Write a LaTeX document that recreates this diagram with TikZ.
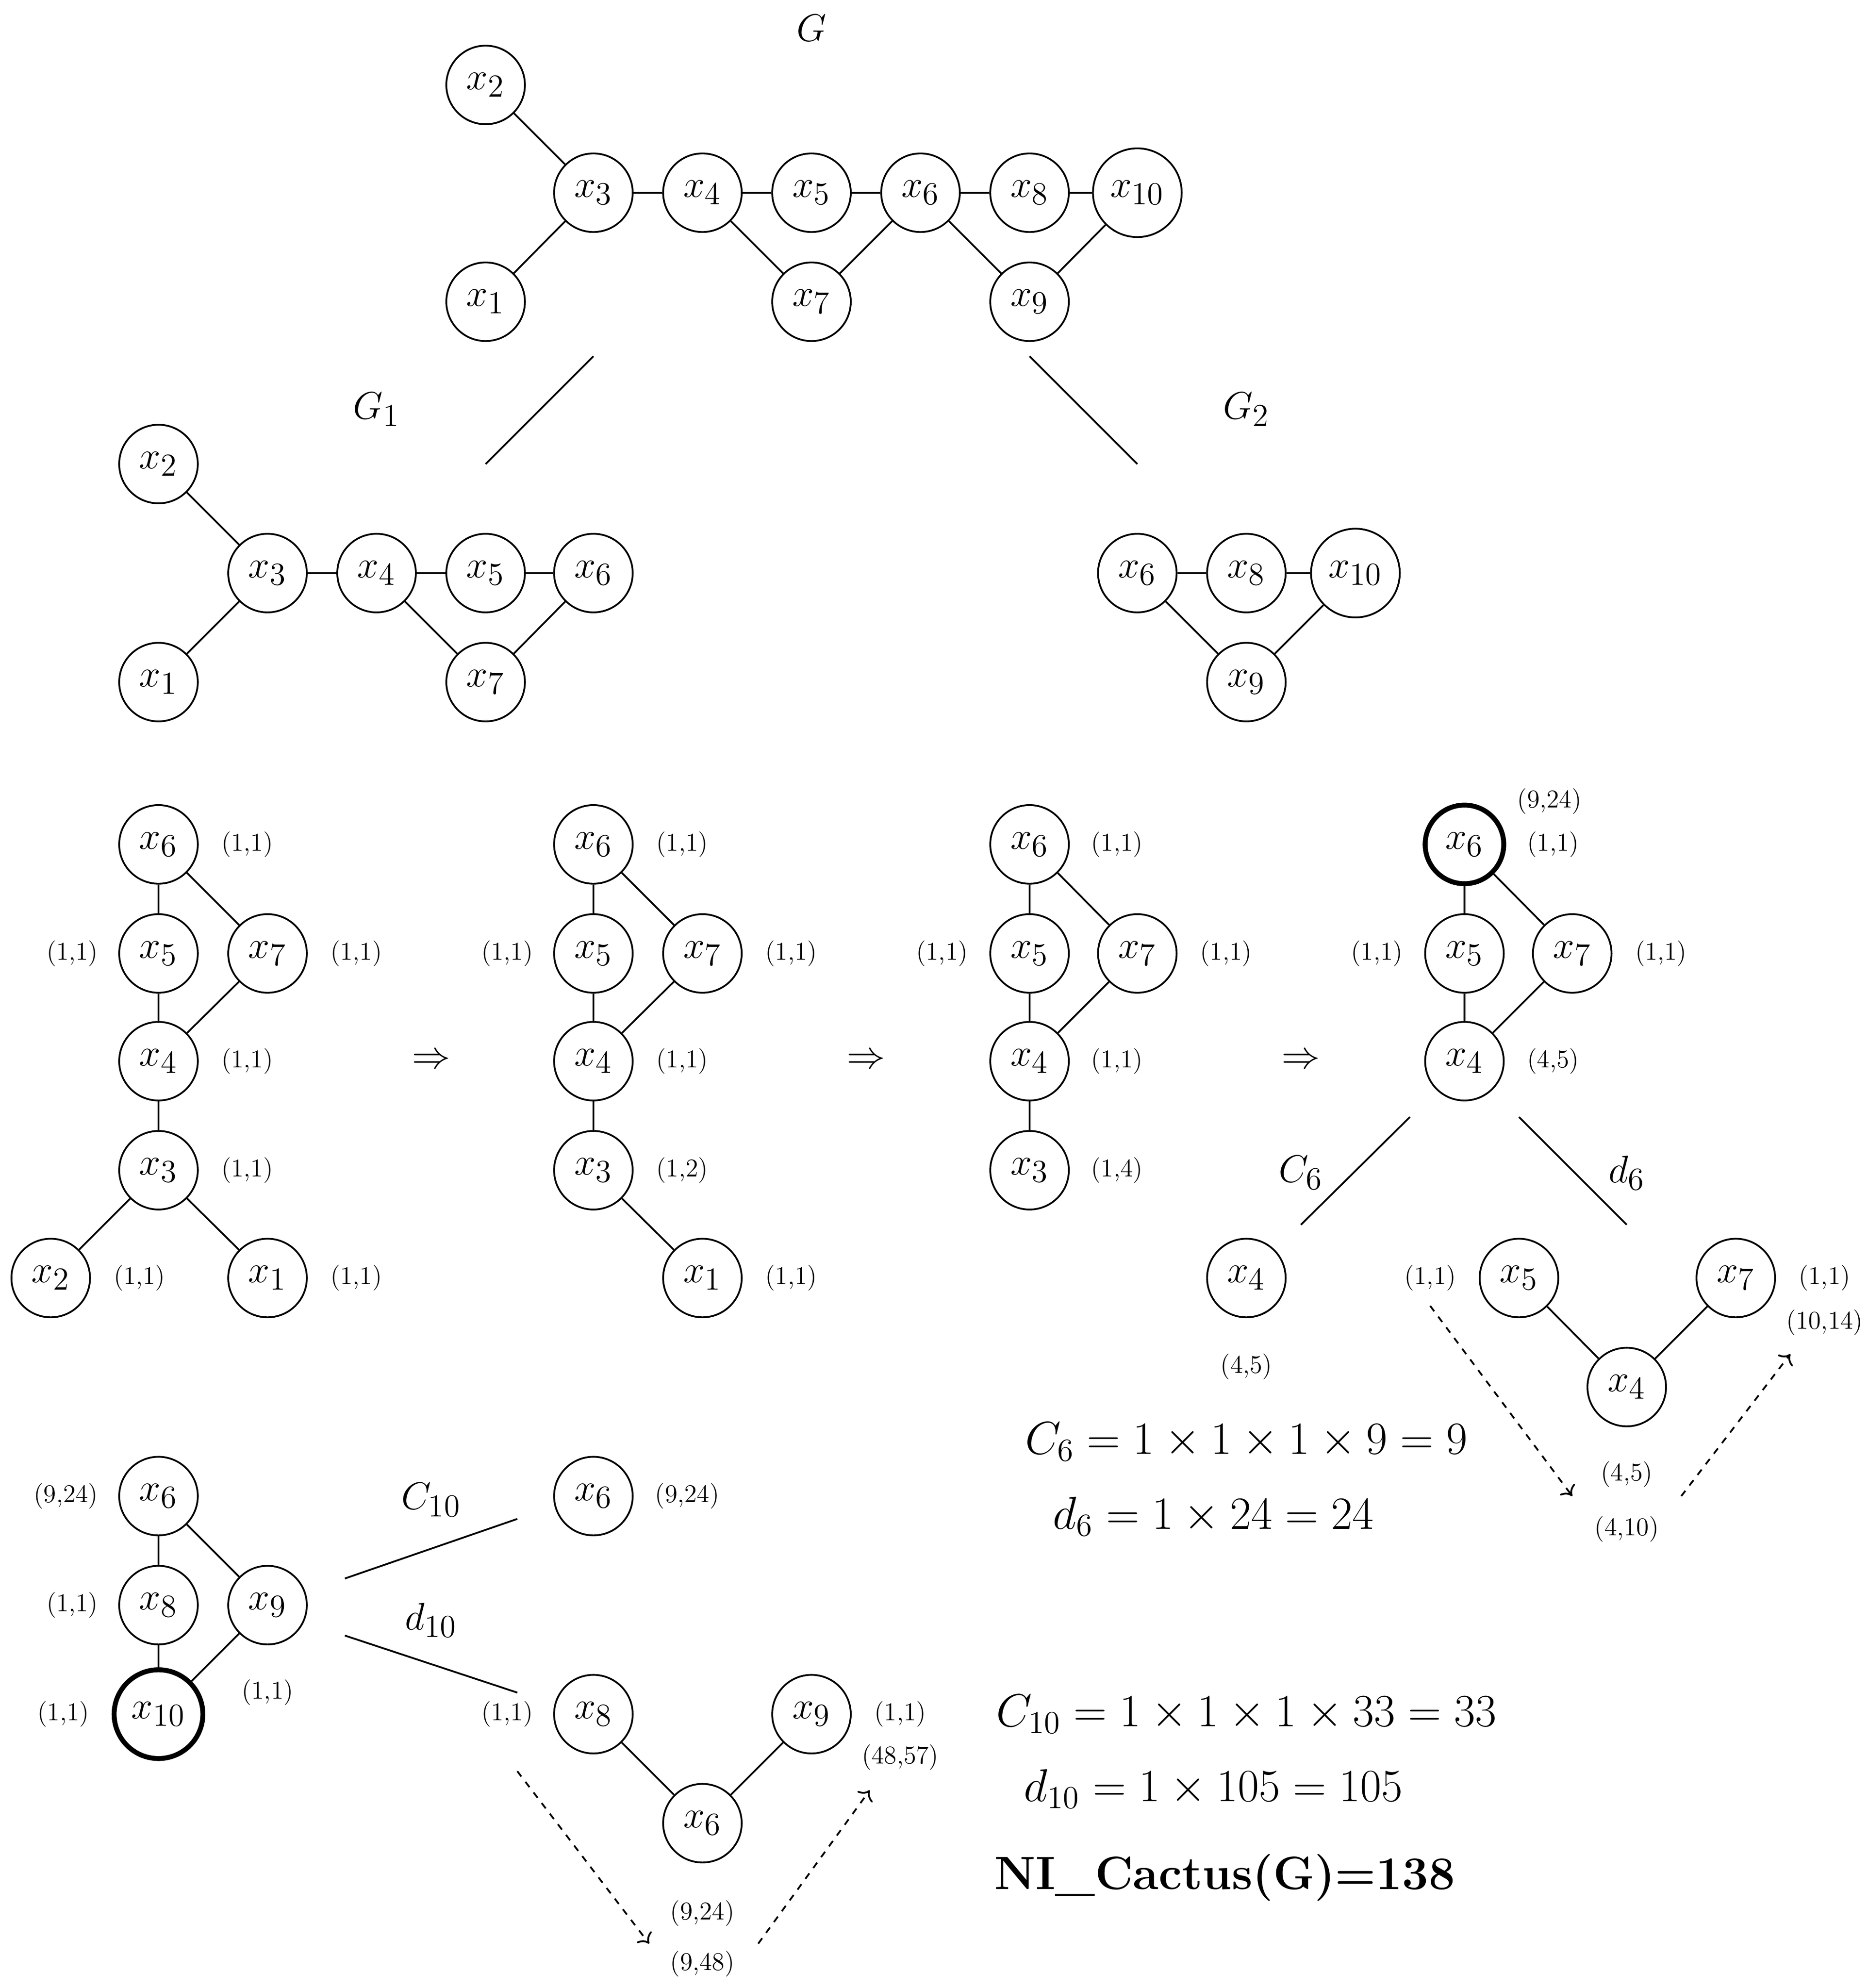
\documentclass[tikz,border=0pt]{standalone}
\usetikzlibrary{arrows.meta}
\begin{document}
\begin{tikzpicture}[x=0.02cm,y=-0.02cm,
 v/.style={circle,draw,line width=0.8pt,minimum size=1.24cm,inner sep=0pt,font=\fontsize{19}{22}\selectfont},
 vb/.style={v,minimum size=1.4cm},
 thick node/.style={line width=2.2pt},
 lab/.style={font=\fontsize{11.5}{13}\selectfont},
 gl/.style={font=\fontsize{19}{22}\selectfont},
 eq/.style={font=\fontsize{21}{25}\selectfont},
 e/.style={line width=0.8pt},
 da/.style={dashed,line width=0.8pt,-{To[length=4pt]}}]
\useasboundingbox (0,0) rectangle (1473,1568);
% G
\node[gl] (gG) at (640,22) {$G$};
\node[v] (a2) at (383,67) {$x_2$};
\node[v] (a3) at (468,152) {$x_3$};
\node[v] (a4) at (554,152) {$x_4$};
\node[v] (a5) at (640,152) {$x_5$};
\node[v] (a6) at (726,152) {$x_6$};
\node[v] (a8) at (812,152) {$x_8$};
\node[vb] (a10) at (897,152) {$x_{10}$};
\node[v] (a1) at (383,238) {$x_1$};
\node[v] (a7) at (640,238) {$x_7$};
\node[v] (a9) at (812,238) {$x_9$};
\draw[e] (a2)--(a3) (a1)--(a3) (a3)--(a4) (a4)--(a5) (a5)--(a6) (a6)--(a8) (a8)--(a10) (a4)--(a7) (a7)--(a6) (a6)--(a9) (a9)--(a10);
\coordinate (l1a) at (468,281); \coordinate (l1b) at (383,366);
\coordinate (l2a) at (812,281); \coordinate (l2b) at (897,366);
\draw[e] (l1a)--(l1b) (l2a)--(l2b);
\node[gl] (gG1) at (297,323) {$G_1$};
\node[gl] (gG2) at (983,323) {$G_2$};
% G1
\node[v] (b2) at (125,366) {$x_2$};
\node[v] (b3) at (211,452) {$x_3$};
\node[v] (b4) at (297,452) {$x_4$};
\node[v] (b5) at (383,452) {$x_5$};
\node[v] (b6) at (468,452) {$x_6$};
\node[v] (b1) at (125,538) {$x_1$};
\node[v] (b7) at (383,538) {$x_7$};
\draw[e] (b2)--(b3) (b1)--(b3) (b3)--(b4) (b4)--(b5) (b5)--(b6) (b4)--(b7) (b7)--(b6);
% G2
\node[v] (c6) at (897,452) {$x_6$};
\node[v] (c8) at (983,452) {$x_8$};
\node[vb] (c10) at (1069,452) {$x_{10}$};
\node[v] (c9) at (983,538) {$x_9$};
\draw[e] (c6)--(c8) (c8)--(c10) (c6)--(c9) (c9)--(c10);
% tree 1
\node[v] (d6) at (125,666) {$x_6$};
\node[v] (d5) at (125,752) {$x_5$};
\node[v] (d7) at (211,752) {$x_7$};
\node[v] (d4) at (125,837) {$x_4$};
\node[v] (d3) at (125,923) {$x_3$};
\node[v] (d2) at (40,1008) {$x_2$};
\node[v] (d1) at (211,1008) {$x_1$};
\draw[e] (d6)--(d5) (d6)--(d7) (d5)--(d4) (d7)--(d4) (d4)--(d3) (d3)--(d2) (d3)--(d1);
\node[lab] (dl6) at (195,666) {(1,1)};
\node[lab] (dl5) at (57,752) {(1,1)};
\node[lab] (dl7) at (281,752) {(1,1)};
\node[lab] (dl4) at (195,837) {(1,1)};
\node[lab] (dl3) at (195,923) {(1,1)};
\node[lab] (dl2) at (110,1008) {(1,1)};
\node[lab] (dl1) at (281,1008) {(1,1)};
\node[gl] (ar1) at (340,837) {$\Rightarrow$};
% tree 2
\node[v] (f6) at (468,666) {$x_6$};
\node[v] (f5) at (468,752) {$x_5$};
\node[v] (f7) at (554,752) {$x_7$};
\node[v] (f4) at (468,837) {$x_4$};
\node[v] (f3) at (468,923) {$x_3$};
\node[v] (f1) at (554,1008) {$x_1$};
\draw[e] (f6)--(f5) (f6)--(f7) (f5)--(f4) (f7)--(f4) (f4)--(f3) (f3)--(f1);
\node[lab] (fl6) at (538,666) {(1,1)};
\node[lab] (fl5) at (400,752) {(1,1)};
\node[lab] (fl7) at (624,752) {(1,1)};
\node[lab] (fl4) at (538,837) {(1,1)};
\node[lab] (fl3) at (538,923) {(1,2)};
\node[lab] (fl1) at (624,1008) {(1,1)};
\node[gl] (ar2) at (683,837) {$\Rightarrow$};
% tree 3
\node[v] (g6) at (812,666) {$x_6$};
\node[v] (g5) at (812,752) {$x_5$};
\node[v] (g7) at (897,752) {$x_7$};
\node[v] (g4) at (812,837) {$x_4$};
\node[v] (g3) at (812,923) {$x_3$};
\draw[e] (g6)--(g5) (g6)--(g7) (g5)--(g4) (g7)--(g4) (g4)--(g3);
\node[lab] (gl6) at (881,666) {(1,1)};
\node[lab] (gl5) at (743,752) {(1,1)};
\node[lab] (gl7) at (967,752) {(1,1)};
\node[lab] (gl4) at (881,837) {(1,1)};
\node[lab] (gl3) at (881,923) {(1,4)};
\node[gl] (ar3) at (1026,837) {$\Rightarrow$};
% tree 4
\node[v,thick node] (h6) at (1155,666) {$x_6$};
\node[v] (h5) at (1155,752) {$x_5$};
\node[v] (h7) at (1240,752) {$x_7$};
\node[v] (h4) at (1155,837) {$x_4$};
\draw[e] (h6)--(h5) (h6)--(h7) (h5)--(h4) (h7)--(h4);
\node[lab] (hl6a) at (1222,632) {(9,24)};
\node[lab] (hl6) at (1225,666) {(1,1)};
\node[lab] (hl5) at (1086,752) {(1,1)};
\node[lab] (hl7) at (1310,752) {(1,1)};
\node[lab] (hl4) at (1225,837) {(4,5)};
\coordinate (m1a) at (1112,881); \coordinate (m1b) at (1026,966);
\coordinate (m2a) at (1198,881); \coordinate (m2b) at (1283,966);
\draw[e] (m1a)--(m1b) (m2a)--(m2b);
\node[gl] (C6) at (1026,925) {$C_6$};
\node[gl] (d6l) at (1283,925) {$d_6$};
\node[v] (k4) at (983,1008) {$x_4$};
\node[lab] (kl4) at (983,1078) {(4,5)};
\node[v] (n5) at (1198,1008) {$x_5$};
\node[v] (n7) at (1369,1008) {$x_7$};
\node[v] (n4) at (1283,1094) {$x_4$};
\draw[e] (n5)--(n4) (n4)--(n7);
\node[lab] (nl5) at (1128,1008) {(1,1)};
\node[lab] (nl7) at (1439,1008) {(1,1)};
\node[lab] (nl7b) at (1439,1043) {(10,14)};
\node[lab] (nl4a) at (1283,1163) {(4,5)};
\node[lab] (nl4b) at (1283,1206) {(4,10)};
\coordinate (p1) at (1128,1030); \coordinate (p2) at (1240,1180);
\coordinate (p3) at (1326,1180); \coordinate (p4) at (1412,1068);
\draw[da] (p1)--(p2); \draw[da] (p3)--(p4);
\node[eq] (eqC6) at (983,1137) {$C_6=1\times1\times1\times9=9$};
\node[eq] (eqd6) at (957,1196) {$d_6=1\times24=24$};
% bottom
\node[v] (q6) at (125,1180) {$x_6$};
\node[v] (q8) at (125,1266) {$x_8$};
\node[v] (q9) at (211,1266) {$x_9$};
\node[vb,thick node] (q10) at (125,1352) {$x_{10}$};
\draw[e] (q6)--(q8) (q6)--(q9) (q8)--(q10) (q9)--(q10);
\node[lab] (ql6) at (52,1180) {(9,24)};
\node[lab] (ql8) at (57,1266) {(1,1)};
\node[lab] (ql9) at (211,1335) {(1,1)};
\node[lab] (ql10) at (50,1352) {(1,1)};
\coordinate (r1a) at (272,1245); \coordinate (r1b) at (408,1198);
\coordinate (r2a) at (272,1290); \coordinate (r2b) at (408,1335);
\draw[e] (r1a)--(r1b) (r2a)--(r2b);
\node[gl] (C10) at (340,1183) {$C_{10}$};
\node[gl] (d10l) at (340,1278) {$d_{10}$};
\node[v] (s6) at (468,1180) {$x_6$};
\node[lab] (sl6) at (542,1180) {(9,24)};
\node[v] (t8) at (468,1352) {$x_8$};
\node[v] (t9) at (640,1352) {$x_9$};
\node[v] (t6) at (554,1438) {$x_6$};
\draw[e] (t8)--(t6) (t6)--(t9);
\node[lab] (tl8) at (400,1352) {(1,1)};
\node[lab] (tl9) at (710,1352) {(1,1)};
\node[lab] (tl9b) at (710,1386) {(48,57)};
\node[lab] (tl6a) at (554,1509) {(9,24)};
\node[lab] (tl6b) at (554,1549) {(9,48)};
\coordinate (u1) at (408,1397); \coordinate (u2) at (512,1533);
\coordinate (u3) at (598,1533); \coordinate (u4) at (686,1412);
\draw[da] (u1)--(u2); \draw[da] (u3)--(u4);
\node[eq] (eqC10) at (983,1352) {$C_{10}=1\times1\times1\times33=33$};
\node[eq] (eqd10) at (957,1411) {$d_{10}=1\times105=105$};
\node[eq] (ni) at (966,1481) {\textbf{NI\_Cactus(G)=138}};
\end{tikzpicture}
\end{document}
